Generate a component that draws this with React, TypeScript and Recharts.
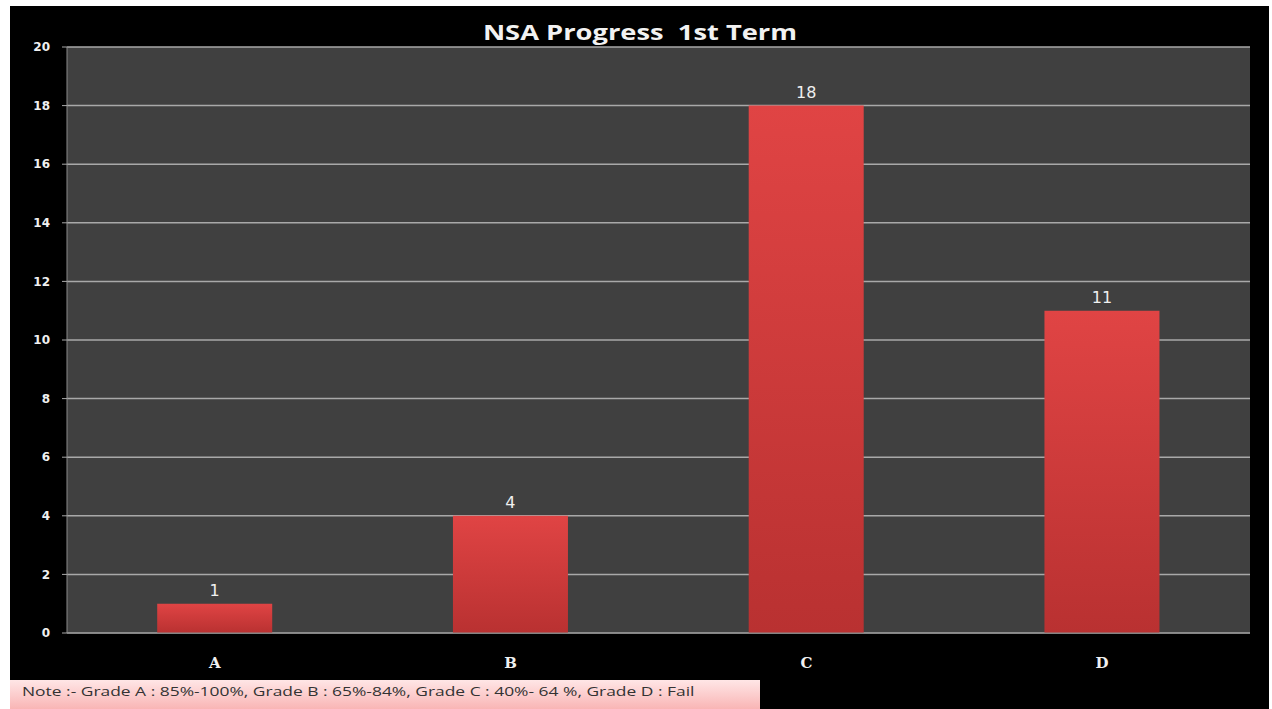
import React from "react";
import { BarChart, Bar, XAxis, YAxis, CartesianGrid, LabelList } from "recharts";

const grades = ["A", "B", "C", "D"];
const students = [1, 4, 18, 11];
const yTicks = [0, 2, 4, 6, 8, 10, 12, 14, 16, 18, 20];
const title = "NSA Progress  1st Term";
const note = "Note :- Grade A : 85%-100%, Grade B : 65%-84%, Grade C : 40%- 64 %, Grade D : Fail";

const data = grades.map((g, i) => ({ grade: g, count: students[i] }));

export default function App() {
  return (
    <div
      style={{
        position: "absolute",
        left: 0,
        top: 0,
        width: 1272,
        height: 709,
        background: "#ffffff",
        overflow: "hidden",
      }}
    >
      {/* black frame */}
      <div
        style={{
          position: "absolute",
          left: 10,
          top: 6,
          width: 1259,
          height: 703,
          background: "#000000",
        }}
      />
      <div
        style={{
          position: "absolute",
          left: 0,
          top: 19,
          width: 1280,
          textAlign: "center",
          color: "#f2f2f2",
          fontFamily: "'Open Sans', sans-serif",
          fontWeight: 700,
          fontSize: 21,
          lineHeight: "26px",
          whiteSpace: "pre",
          transform: "scaleX(1.3)",
          transformOrigin: "640px 0",
        }}
      >
        {title}
      </div>
      <div style={{ position: "absolute", left: 0, top: 0 }}>
        <BarChart
          width={1272}
          height={709}
          data={data}
          margin={{ top: 47, right: 22, bottom: 46, left: 27 }}
          barCategoryGap="30.5%"
        >
          <defs>
            <linearGradient id="barFill" x1="0" y1="0" x2="0" y2="1">
              <stop offset="0%" stopColor="#e04444" />
              <stop offset="100%" stopColor="#b93131" />
            </linearGradient>
          </defs>
          <CartesianGrid vertical={false} fill="#404040" stroke="#a9a9a9" strokeWidth={1.5} />
          <XAxis
            dataKey="grade"
            axisLine={{ stroke: "#8a8a8a" }}
            tickLine={false}
            tick={{ fill: "#f0f0f0", fontSize: 15, fontWeight: 700, fontFamily: "'DejaVu Serif', serif" }}
            dy={16}
          />
          <YAxis
            domain={[0, 20]}
            ticks={yTicks}
            width={40}
            axisLine={{ stroke: "#8a8a8a" }}
            tickLine={{ stroke: "#a9a9a9" }}
            tickSize={5}
            tickMargin={12}
            tick={{ fill: "#f0f0f0", fontSize: 12, fontWeight: 700, fontFamily: "'DejaVu Sans', sans-serif" }}
            interval={0}
          />
          <Bar dataKey="count" fill="url(#barFill)" isAnimationActive={false}>
            <LabelList
              dataKey="count"
              position="top"
              offset={8}
              fill="#f0f0f0"
              fontSize={16}
              fontFamily="'DejaVu Sans', sans-serif"
            />
          </Bar>
        </BarChart>
      </div>
      <div
        style={{
          position: "absolute",
          left: 10,
          top: 680,
          width: 750,
          height: 29,
          background: "linear-gradient(to bottom, #ffe6e6, #f9b5b5)",
        }}
      />
      <div
        style={{
          position: "absolute",
          left: 22,
          top: 682,
          color: "#333333",
          fontFamily: "'Open Sans', sans-serif",
          fontSize: 12,
          lineHeight: "20px",
          whiteSpace: "pre",
          transform: "scaleX(1.45)",
          transformOrigin: "0 0",
        }}
      >
        {note}
      </div>
    </div>
  );
}
